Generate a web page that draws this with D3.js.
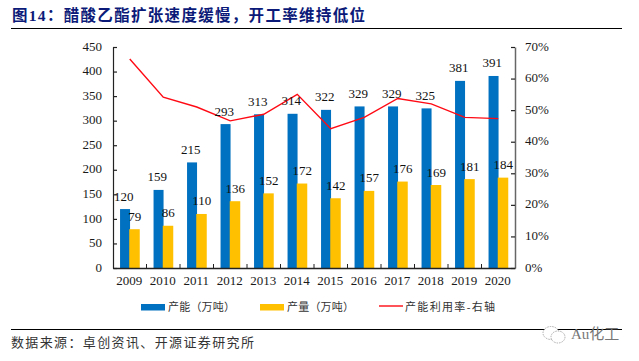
<!DOCTYPE html>
<html><head><meta charset="utf-8">
<script src="https://cdn.jsdelivr.net/npm/d3@7/dist/d3.min.js"></script>
<style>html,body{margin:0;padding:0;background:#fff}svg{display:block}text{font-family:"Liberation Serif","Noto Sans CJK SC",serif}</style>
</head><body><svg id="c" width="639" height="361"></svg>
<script>
const years=["2009","2010","2011","2012","2013","2014","2015","2016","2017","2018","2019","2020"];
const capacity=[120,159,215,293,313,314,322,329,329,325,381,391];
const output=[79,86,110,136,152,172,142,157,176,169,181,184];
const utilization=[66.2,54.1,51,46.6,48.7,55,44.1,47.7,53.7,52,47.7,47.3];
const leftTicks=[0,50,100,150,200,250,300,350,400,450];
const rightTicks=[0,10,20,30,40,50,60,70];
const titleText="图14：醋酸乙酯扩张速度缓慢，开工率维持低位";
const sourceText="数据来源：卓创资讯、开源证券研究所";
const legendLabels=["产能（万吨）","产量（万吨）","产能利用率-右轴"];

const svg=d3.select("#c");
const L=113,R=515,T=47,B=268,BLUE="#0070c0",YEL="#ffc000",RED="#ff0a14",TXT="#1a1a1a";
const x=d3.scaleBand().domain(years).range([L,R]);
const yL=d3.scaleLinear().domain([0,450]).range([B,T]);
const yR=d3.scaleLinear().domain([0,70]).range([B,T]);
const barW=10,cx=d=>x(d)+x.bandwidth()/2;

svg.append("text").attr("x",12).attr("y",21).attr("font-size",15.5).attr("font-weight",700).attr("fill","#0b1a78").attr("textLength",353).attr("lengthAdjust","spacing").text(titleText);
svg.append("line").attr("x1",11).attr("x2",622).attr("y1",28.5).attr("y2",28.5).attr("stroke","#000").attr("stroke-width",1.2);
svg.append("line").attr("x1",11).attr("x2",622).attr("y1",329.5).attr("y2",329.5).attr("stroke","#000").attr("stroke-width",1.2);
svg.append("text").attr("x",11).attr("y",347).attr("font-size",13).attr("fill","#333").attr("textLength",243).attr("lengthAdjust","spacing").text(sourceText);

svg.append("g").selectAll("rect").data(years).join("rect")
 .attr("x",d=>cx(d)-barW+0.3).attr("width",barW).attr("y",(d,i)=>yL(capacity[i])).attr("height",(d,i)=>B-yL(capacity[i])).attr("fill",BLUE);
svg.append("g").selectAll("rect").data(years).join("rect")
 .attr("x",d=>cx(d)-0.5).attr("width",barW+0.5).attr("y",(d,i)=>yL(output[i])).attr("height",(d,i)=>B-yL(output[i])).attr("fill",YEL);

function styleAxis(g,color,w){
 g.selectAll("path,line").attr("stroke",color).attr("stroke-width",w);
 g.selectAll("text").attr("font-size",13).attr("fill",TXT).attr("font-family",'"Liberation Serif",serif');
}
const ax=svg.append("g").attr("transform",`translate(${L},0)`).call(d3.axisLeft(yL).tickValues(leftTicks).tickSize(-4).tickSizeOuter(0).tickPadding(11));
styleAxis(ax,"#222",1.2);
ax.selectAll("text").attr("dy","0.24em");
const ar=svg.append("g").attr("transform",`translate(${R},0)`).call(d3.axisRight(yR).tickValues(rightTicks).tickFormat(d=>d+"%").tickSize(-4).tickSizeOuter(0).tickPadding(10));
styleAxis(ar,"#666",1.5);
ar.selectAll("line").attr("stroke","#222").attr("stroke-width",1.2);
ar.selectAll("text").attr("dy","0.24em");
const ab=svg.append("g").attr("transform",`translate(0,${B})`).call(d3.axisBottom(x).tickSize(0).tickSizeOuter(0).tickPadding(8));
styleAxis(ab,"#222",1.4);
ab.selectAll("text").attr("font-size",13).attr("dx","-0.6");
svg.append("g").selectAll("line").data(years.slice(1)).join("line")
 .attr("x1",d=>x(d)).attr("x2",d=>x(d)).attr("y1",B).attr("y2",B-4).attr("stroke","#222").attr("stroke-width",1);

svg.append("path").datum(utilization).attr("fill","none").attr("stroke",RED).attr("stroke-width",1.4)
 .attr("d",d3.line().x((d,i)=>cx(years[i])).y(d=>yR(d)));

const lab=(vals,off)=>svg.append("g").selectAll("text").data(years).join("text")
 .attr("x",d=>cx(d)+off).attr("y",(d,i)=>yL(vals[i])-8.5).attr("text-anchor","middle").attr("font-size",13).attr("fill","#111").text((d,i)=>vals[i]);
lab(capacity,-6);lab(output,5);

const lg=svg.append("g");
lg.append("rect").attr("x",141).attr("y",304).attr("width",24).attr("height",6.5).attr("fill",BLUE);
lg.append("rect").attr("x",260).attr("y",304).attr("width",24).attr("height",6.5).attr("fill",YEL);
lg.append("line").attr("x1",379).attr("x2",403).attr("y1",306).attr("y2",306).attr("stroke",RED).attr("stroke-width",1.4);
[[168,67],[287,67],[405,90]].forEach((p,i)=>lg.append("text").attr("x",p[0]).attr("y",310.5).attr("font-size",11).attr("fill","#333").attr("textLength",p[1]).attr("lengthAdjust","spacing").text(legendLabels[i]));

const wm=svg.append("g").attr("fill","#fff").attr("stroke","#999").attr("stroke-width",0.8).attr("stroke-dasharray","1.5 1");
wm.append("ellipse").attr("cx",551).attr("cy",333).attr("rx",8).attr("ry",6.5);
wm.append("ellipse").attr("cx",558).attr("cy",337).attr("rx",7).attr("ry",6);
svg.append("text").attr("x",571).attr("y",339).attr("font-size",15).attr("fill","#777").attr("font-family",'"Noto Sans CJK SC",sans-serif').text("Au化工");
</script></body></html>
